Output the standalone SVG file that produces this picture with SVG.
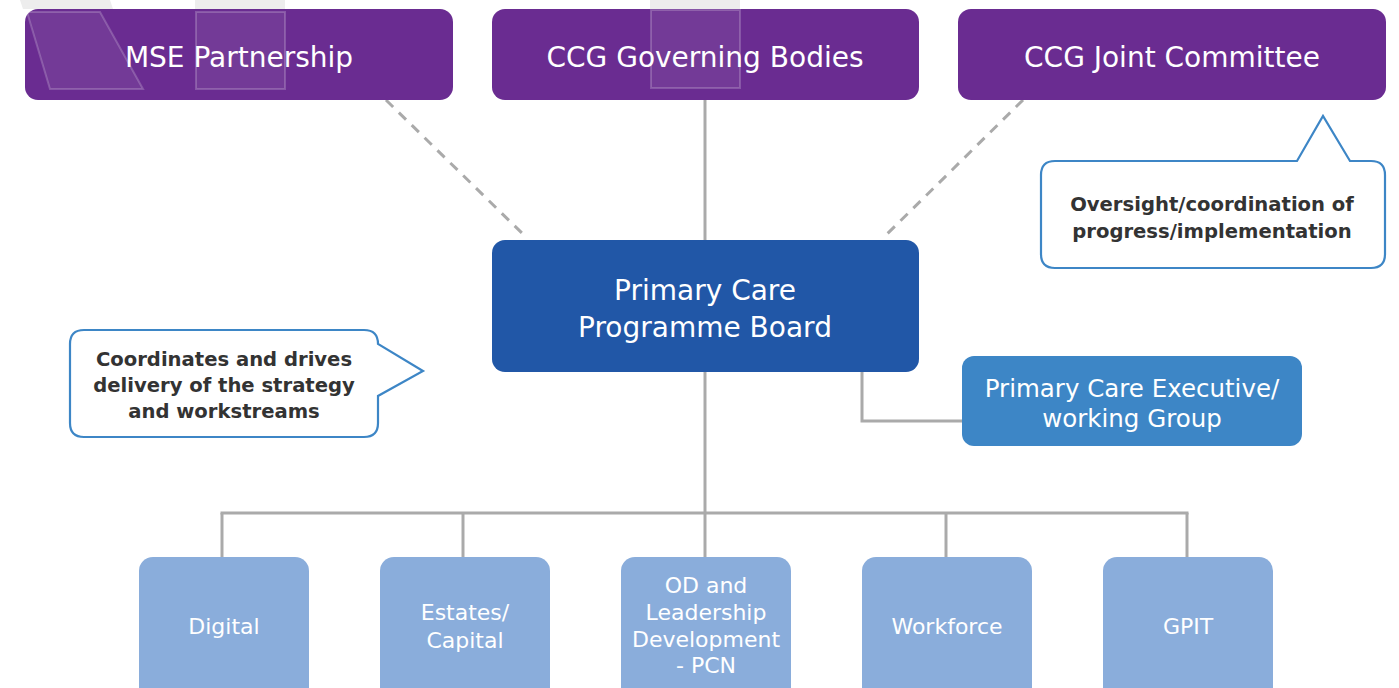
<svg xmlns="http://www.w3.org/2000/svg" width="1399" height="688" viewBox="0 0 1399 688">
<style>
.t{font-family:"DejaVu Sans","Liberation Sans",sans-serif;fill:#fff;text-anchor:middle}
.top{font-size:28px}
.mid{font-size:28px}
.exec{font-size:24.5px}
.sub{font-size:22px}
.note{font-family:"DejaVu Sans","Liberation Sans",sans-serif;font-size:19.6px;font-weight:bold;fill:#333;text-anchor:middle}
.purple{fill:#6a2c91}
.deco{fill:#e0e0e0;fill-opacity:0.08;stroke:#ffffff;stroke-opacity:0.2;stroke-width:2}
.decoTop{fill:#ededed}
.conn{stroke:#aaaaaa;stroke-width:3;fill:none}
.dash{stroke:#aaaaaa;stroke-width:3;fill:none;stroke-dasharray:10 8}
.callout{fill:#fff;stroke:#3d86c6;stroke-width:2.2;stroke-linejoin:miter}
.lb{fill:#8aaddb}
</style>
<rect width="1399" height="688" fill="#fff"/>
<g id="decor-top">
<polygon class="decoTop" points="20,0 110,0 113,9 23,9"/>
<rect class="decoTop" x="195" y="0" width="90" height="9"/>
<rect class="decoTop" x="650" y="0" width="90" height="9"/>
</g>
<g id="connectors">
<line class="conn" x1="705" y1="100" x2="705" y2="240"/>
<line class="dash" x1="386" y1="100" x2="527" y2="238"/>
<line class="dash" x1="1023" y1="100" x2="883" y2="238"/>
<line class="conn" x1="705" y1="372" x2="705" y2="557"/>
<polyline class="conn" points="862,372 862,421 962,421"/>
<line class="conn" x1="220.5" y1="513" x2="1188.5" y2="513"/>
<line class="conn" x1="222" y1="513" x2="222" y2="557"/>
<line class="conn" x1="463" y1="513" x2="463" y2="557"/>
<line class="conn" x1="946" y1="513" x2="946" y2="557"/>
<line class="conn" x1="1187" y1="513" x2="1187" y2="557"/>
</g>
<g id="mse">
<rect class="purple" x="25" y="9" width="428" height="91" rx="13"/>
<polygon class="deco" points="27,12 100,12 143,89 50,89"/>
<rect class="deco" x="196" y="12" width="89" height="77"/>
<text class="t top" x="239" y="67">MSE Partnership</text>
</g>
<g id="ccg-gov">
<rect class="purple" x="492" y="9" width="427" height="91" rx="13"/>
<rect class="deco" x="651" y="10" width="89" height="78"/>
<text class="t top" x="705" y="67">CCG Governing Bodies</text>
</g>
<g id="ccg-joint">
<rect class="purple" x="958" y="9" width="428" height="91" rx="13"/>
<text class="t top" x="1172" y="67">CCG Joint Committee</text>
</g>
<g id="board">
<rect x="492" y="240" width="427" height="132" rx="13" fill="#2157a7"/>
<text class="t mid" x="705" y="300">Primary Care</text>
<text class="t mid" x="705" y="337">Programme Board</text>
</g>
<g id="exec">
<rect x="962" y="356" width="340" height="90" rx="12" fill="#3d86c6"/>
<text class="t exec" x="1132" y="397">Primary Care Executive/</text>
<text class="t exec" x="1132" y="427">working Group</text>
</g>
<g id="note-oversight">
<path class="callout" d="M1055,161 L1297,161 L1323,116 L1350,161 L1371,161 Q1385,161 1385,175 L1385,254 Q1385,268 1371,268 L1055,268 Q1041,268 1041,254 L1041,175 Q1041,161 1055,161 Z"/>
<text class="note" x="1212" y="211">Oversight/coordination of</text>
<text class="note" x="1212" y="238">progress/implementation</text>
</g>
<g id="note-coordinates">
<path class="callout" d="M84,330 L364,330 Q378,330 378,344 L423,371 L378,396 L378,423 Q378,437 364,437 L84,437 Q70,437 70,423 L70,344 Q70,330 84,330 Z"/>
<text class="note" x="224" y="366">Coordinates and drives</text>
<text class="note" x="224" y="392">delivery of the strategy</text>
<text class="note" x="224" y="418">and workstreams</text>
</g>
<g id="digital">
<rect class="lb" x="139" y="557" width="170" height="150" rx="14"/>
<text class="t sub" x="224" y="634">Digital</text>
</g>
<g id="estates">
<rect class="lb" x="380" y="557" width="170" height="150" rx="14"/>
<text class="t sub" x="465" y="620">Estates/</text>
<text class="t sub" x="465" y="648">Capital</text>
</g>
<g id="od">
<rect class="lb" x="621" y="557" width="170" height="150" rx="14"/>
<text class="t sub" x="706" y="593">OD and</text>
<text class="t sub" x="706" y="620">Leadership</text>
<text class="t sub" x="706" y="647">Development</text>
<text class="t sub" x="706" y="673">- PCN</text>
</g>
<g id="workforce">
<rect class="lb" x="862" y="557" width="170" height="150" rx="14"/>
<text class="t sub" x="947" y="634">Workforce</text>
</g>
<g id="gpit">
<rect class="lb" x="1103" y="557" width="170" height="150" rx="14"/>
<text class="t sub" x="1188" y="634">GPIT</text>
</g>
</svg>
